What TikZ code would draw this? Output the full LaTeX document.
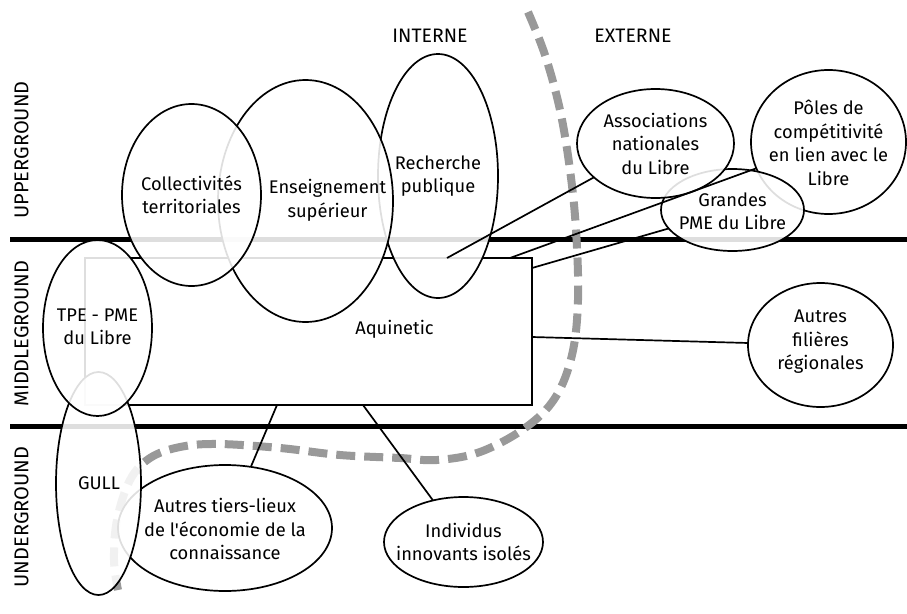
\documentclass[tikz,border=0pt]{standalone}
\usepackage{fontspec}
\setmainfont{Fira Sans}[Ligatures=TeXOff]
\usetikzlibrary{shapes.geometric}
\definecolor{dashgrey}{RGB}{153,153,153}
\begin{document}
\begin{tikzpicture}[x=1pt,y=-1pt,
  band/.style={line width=5pt},
  ell/.style={ellipse, draw, line width=1.7pt, fill=white, fill opacity=0.87, text opacity=1, inner sep=0pt, outer sep=0pt},
  txt/.style={align=center, inner sep=0pt, font=\fontsize{18.3}{23.5}\selectfont},
  side/.style={rotate=90, inner sep=0pt, font=\fontsize{20}{24}\selectfont},
  head/.style={inner sep=0pt, font=\fontsize{19.5}{24}\selectfont},
  boxstyle/.style={draw, line width=1.4pt, fill=white, inner sep=0pt, outer sep=0pt},
  conn/.style={line width=1.7pt},
  frontier/.style={draw=dashgrey, line width=8pt, dash pattern=on 19pt off 9pt}
]
\useasboundingbox (0,0) rectangle (907,613);
% bands
\draw[band] (10,239) -- (907,239);
\draw[band] (10,426) -- (907,426);
% Aquinetic box
\node[boxstyle, minimum width=447pt, minimum height=147pt] (aq) at (308.5,331.5) {};
\node[txt] (aqt) at (394.5,329) {Aquinetic};
% frontier
\draw[frontier] plot[smooth, tension=0.6] coordinates {(528,12) (545,55) (560,110) (570,170) (576,230) (578,300) (572,355) (555,398) (525,428) (480,452) (437,460) (400,458) (340,455) (280,448) (218,444) (180,447) (150,458) (130,480) (117,520) (114,560) (118,590)};
% upperground internal
\node[ell, minimum width=120pt, minimum height=244pt] (rech) at (438,176) {};
\node[txt] (recht) at (rech) {Recherche\\publique};
\node[ell, minimum width=175pt, minimum height=242pt] (ens) at (305.5,201) {};
\node[txt] (enst) at (327.5,200.5) {Enseignement\\supérieur};
\node[ell, minimum width=139pt, minimum height=182pt] (coll) at (191.5,195) {};
\node[txt] (collt) at (coll) {Collectivités\\territoriales};
% external
\node[ell, minimum width=155pt, minimum height=144pt] (poles) at (828.5,142) {};
\node[txt] (polest) at (828.5,143) {Pôles de\\compétitivité\\en lien avec le\\Libre};
\node[ell, minimum width=143pt, minimum height=82pt] (gpme) at (732.5,210) {};
\node[txt] (gpmet) at (732.5,211) {Grandes\\PME du Libre};
\node[ell, minimum width=157pt, minimum height=109pt] (assoc) at (655.5,143.5) {};
\node[txt] (assoct) at (assoc) {Associations\\nationales\\du Libre};
\node[ell, minimum width=145pt, minimum height=124pt] (fil) at (820.5,345) {};
\node[txt] (filt) at (820.5,342) {Autres\\filières\\régionales};
\node[ell, minimum width=159pt, minimum height=90pt] (indiv) at (463.5,542) {};
\node[txt] (indivt) at (indiv) {Individus\\innovants isolés};
% left
\node[ell, minimum width=214pt, minimum height=126pt] (tiers) at (225,528) {};
\node[txt] (tierst) at (225,529) {Autres tiers-lieux\\de l'économie de la\\connaissance};
\node[ell, minimum width=85pt, minimum height=223pt] (gull) at (98.5,483.5) {};
\node[txt] (gullt) at (99,483) {GULL};
\node[ell, minimum width=109pt, minimum height=176pt] (tpe) at (97.5,328) {};
\node[txt] (tpet) at (97.5,327) {TPE - PME\\du Libre};
% connectors
\draw[conn] ([xshift=362pt]aq.north west) -- (assoc);
\draw[conn] ([xshift=425pt]aq.north west) -- (poles);
\draw[conn] ([yshift=-10pt]aq.north east) -- (gpme);
\draw[conn] ([yshift=-79pt]aq.north east) -- (fil);
\draw[conn] ([xshift=192pt]aq.south west) -- (tiers);
\draw[conn] ([xshift=278pt]aq.south west) -- (indiv);
% labels
\node[side] (up) at (21.5,150) {UPPERGROUND};
\node[side] (mid) at (21.5,333.5) {MIDDLEGROUND};
\node[side] (under) at (21.5,517) {UNDERGROUND};
\node[head] (int) at (430,36) {INTERNE};
\node[head] (ext) at (633,36) {EXTERNE};
\end{tikzpicture}
\end{document}
